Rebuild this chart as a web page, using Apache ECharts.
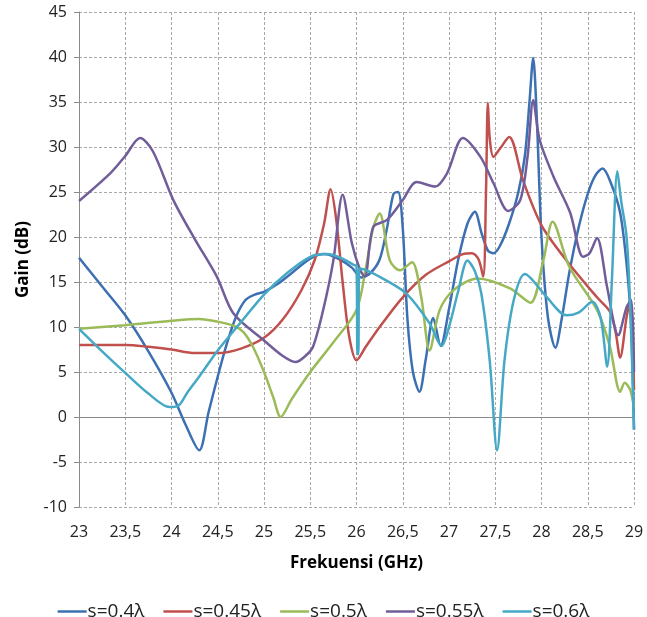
<!DOCTYPE html>
<html>
<head>
<meta charset="utf-8">
<script src="https://cdn.jsdelivr.net/npm/echarts@6/dist/echarts.min.js"></script>
<style>
  html, body { margin: 0; padding: 0; background: #fff; }
  #chart { width: 647px; height: 617px; }
</style>
</head>
<body>
<div id="chart"></div>
<script>
// Gain vs frequency for five element spacings s (in wavelengths)
const seriesNames = ['s=0.4\u03bb', 's=0.45\u03bb', 's=0.5\u03bb', 's=0.55\u03bb', 's=0.6\u03bb'];

const freq040 = [23, 23.25, 23.5, 23.75, 24, 24.15, 24.3, 24.4, 24.5, 24.6, 24.7, 24.8, 24.9, 25, 25.15, 25.3, 25.5, 25.65, 25.8, 25.95, 26.05, 26.15, 26.25, 26.33, 26.4, 26.45, 26.5, 26.55, 26.61, 26.68, 26.75, 26.83, 26.91, 27.0, 27.1, 27.2, 27.28, 27.35, 27.42, 27.48, 27.55, 27.65, 27.75, 27.82, 27.87, 27.91, 27.95, 28.0, 28.07, 28.15, 28.22, 28.3, 28.4, 28.5, 28.58, 28.66, 28.75, 28.85, 28.92, 28.97, 29];
const gain040 = [17.7, 14.5, 11.3, 7.3, 2.7, -0.8, -3.7, 0.5, 4.5, 8.2, 11.2, 13.0, 13.6, 13.9, 14.8, 16.0, 17.6, 18.1, 17.6, 16.6, 15.5, 16.0, 17.5, 21.0, 24.8, 25.0, 21.0, 11.0, 5.0, 2.8, 6.5, 11.0, 7.9, 12.0, 17.5, 21.5, 22.8, 20.5, 18.5, 18.2, 19.0, 21.5, 25.0, 29.0, 35.0, 39.9, 33.0, 20.0, 11.0, 7.7, 11.0, 16.0, 21.0, 24.8, 26.8, 27.6, 26.0, 22.7, 17.0, 10.0, -1.4];

const freq045 = [23, 23.25, 23.5, 23.75, 24, 24.25, 24.5, 24.75, 25, 25.2, 25.4, 25.55, 25.65, 25.72, 25.78, 25.85, 25.92, 26.0, 26.1, 26.25, 26.5, 26.75, 27.0, 27.15, 27.25, 27.32, 27.37, 27.4, 27.42, 27.44, 27.48, 27.55, 27.65, 27.8, 28.0, 28.27, 28.6, 28.74, 28.8, 28.85, 28.92, 28.96, 29];
const gain045 = [8.0, 8.0, 8.0, 7.8, 7.5, 7.1, 7.1, 7.6, 8.8, 10.8, 14.0, 17.5, 21.5, 25.3, 22.0, 15.0, 9.0, 6.3, 7.8, 10.0, 13.3, 15.8, 17.3, 18.1, 18.2, 17.5, 15.6, 25.0, 34.9, 31.0, 28.9, 29.8, 31.1, 26.3, 21.3, 17.4, 13.3, 11.7, 9.5, 6.6, 11.1, 13.0, 3.0];

const freq050 = [23, 23.5, 24, 24.3, 24.5, 24.68, 24.78, 24.88, 25.0, 25.1, 25.18, 25.3, 25.5, 25.75, 26.0, 26.1, 26.18, 26.25, 26.36, 26.47, 26.6, 26.7, 26.79, 26.9, 27.05, 27.31, 27.66, 27.88, 28.02, 28.12, 28.3, 28.6, 28.74, 28.85, 28.9, 28.96, 29];
const gain050 = [9.8, 10.2, 10.7, 10.9, 10.6, 10.1, 9.4, 7.8, 5.0, 2.2, 0.0, 2.0, 5.0, 8.3, 11.9, 16.5, 21.0, 22.6, 17.4, 16.3, 17.2, 13.3, 7.4, 11.9, 14.1, 15.4, 14.3, 12.7, 17.4, 21.7, 16.7, 11.9, 7.8, 2.8, 3.8, 3.0, 1.0];

const freq055 = [23, 23.34, 23.5, 23.66, 23.8, 24.02, 24.25, 24.49, 24.67, 25.0, 25.2, 25.34, 25.45, 25.53, 25.64, 25.75, 25.85, 25.95, 26.04, 26.09, 26.18, 26.33, 26.5, 26.65, 26.85, 26.98, 27.15, 27.34, 27.48, 27.64, 27.77, 27.85, 27.91, 27.98, 28.13, 28.31, 28.45, 28.52, 28.6, 28.71, 28.83, 28.92, 28.97, 29];
const gain055 = [24.0, 27.1, 29.0, 31.0, 29.5, 24.1, 19.8, 15.6, 11.5, 8.5, 6.8, 6.1, 6.8, 7.8, 11.9, 17.4, 24.7, 19.3, 16.3, 15.6, 21.1, 21.9, 24.1, 26.1, 25.6, 27.1, 31.0, 28.9, 26.0, 22.9, 24.1, 29.0, 35.2, 30.8, 26.7, 22.7, 17.8, 18.2, 19.9, 14.4, 9.1, 12.2, 13.0, 5.0];

const freq060 = [23, 23.25, 23.5, 23.75, 23.98, 24.08, 24.17, 24.3, 24.5, 24.74, 25.0, 25.25, 25.5, 25.68, 25.85, 25.97, 26.0, 26.01, 26.02, 26.03, 26.11, 26.3, 26.54, 26.79, 26.92, 27.0, 27.1, 27.2, 27.28, 27.35, 27.44, 27.52, 27.6, 27.7, 27.82, 28.05, 28.27, 28.4, 28.55, 28.64, 28.71, 28.76, 28.82, 28.86, 28.92, 28.96, 29];
const gain060 = [9.8, 7.3, 4.9, 2.6, 1.1, 1.3, 2.7, 4.5, 7.4, 10.4, 13.6, 16.0, 17.8, 18.1, 17.6, 16.9, 16.8, 7.0, 7.0, 16.5, 16.3, 15.3, 13.7, 10.4, 7.9, 10.0, 14.0, 17.4, 16.2, 13.7, 6.3, -3.7, 6.3, 13.0, 15.9, 13.4, 11.3, 11.6, 12.8, 11.0, 5.6, 15.0, 27.3, 24.1, 20.0, 12.0, -1.4];

// Axis ranges and tick spacing
const xMin = 23, xMax = 29, xStep = 0.5;
const yMin = -10, yMax = 45, yStep = 5;

const lineColors = ['#3c70b2', '#c0504d', '#9bbb59', '#705d99', '#45a9c5'];
const freqs = [freq040, freq045, freq050, freq055, freq060];
const gains = [gain040, gain045, gain050, gain055, gain060];

const FONT = '"Open Sans", sans-serif';

const series = seriesNames.map((name, i) => {
  const s = {
    name: name,
    type: 'line',
    data: freqs[i].map((f, k) => [f, gains[i][k]]),
    symbol: 'none',
    smooth: 0.3,
    lineStyle: { width: 2.5, color: lineColors[i] },
    itemStyle: { color: lineColors[i] },
    z: 3
  };
  if (i === 0) {
    // horizontal axis crossing at 0 dB
    s.markLine = {
      silent: true,
      symbol: 'none',
      label: { show: false },
      lineStyle: { color: '#8a8a8a', type: 'solid', width: 1 },
      data: [{ yAxis: 0 }],
      z: 1
    };
  }
  return s;
});

const chart = echarts.init(document.getElementById('chart'), null, { renderer: 'canvas' });
chart.setOption({
  animation: false,
  backgroundColor: '#ffffff',
  textStyle: { fontFamily: FONT },
  grid: { left: 79, right: 13, top: 12, bottom: 110, containLabel: false },
  xAxis: {
    type: 'value',
    min: xMin, max: xMax, interval: xStep,
    name: 'Frekuensi (GHz)',
    nameLocation: 'middle',
    nameGap: 48,
    nameTextStyle: { fontFamily: FONT, fontSize: 17, fontWeight: 'bold', color: '#000' },
    axisLine: { show: false, onZero: false },
    axisTick: { show: false },
    axisLabel: {
      margin: 17,
      fontFamily: FONT, fontSize: 16, color: '#222',
      formatter: v => String(v).replace('.', ',')
    },
    splitLine: { show: true, lineStyle: { color: '#a9a9a9', type: [3, 2], width: 1 } }
  },
  yAxis: {
    type: 'value',
    min: yMin, max: yMax, interval: yStep,
    name: 'Gain (dB)',
    nameLocation: 'middle',
    nameGap: 47,
    nameTextStyle: { fontFamily: FONT, fontSize: 17, fontWeight: 'bold', color: '#000' },
    axisLine: { show: true, lineStyle: { color: '#8a8a8a', width: 1 } },
    axisTick: { show: true, inside: false, length: 5, lineStyle: { color: '#8a8a8a' } },
    axisLabel: { margin: 12, fontFamily: FONT, fontSize: 16, color: '#222' },
    splitLine: { show: true, lineStyle: { color: '#a9a9a9', type: [3, 2], width: 1 } }
  },
  legend: {
    data: seriesNames,
    top: 597,
    left: 'center',
    icon: 'rect',
    itemWidth: 29,
    itemHeight: 2.5,
    itemGap: 19,
    textStyle: { fontFamily: FONT, fontSize: 19, color: '#222', padding: [0, 0, 0, -4] }
  },
  series: series
});
</script>
</body>
</html>
